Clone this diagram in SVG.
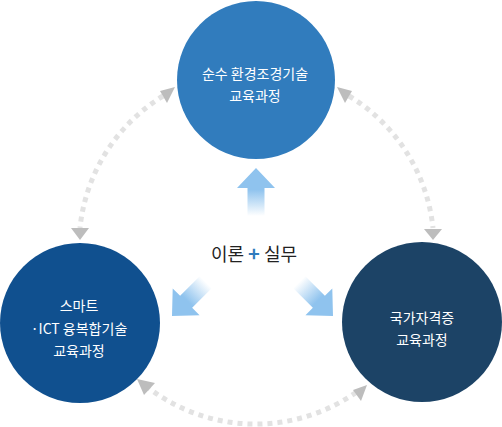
<svg xmlns="http://www.w3.org/2000/svg" width="502" height="427" viewBox="0 0 502 427">
  <defs>
    <linearGradient id="fade" x1="0" y1="0" x2="0" y2="1">
      <stop offset="0" stop-color="#8fc3ee"/>
      <stop offset="0.45" stop-color="#8fc3ee"/>
      <stop offset="1" stop-color="#8fc3ee" stop-opacity="0"/>
    </linearGradient>
    <path id="bigArrow" d="M0 0 L19 20 L8.5 20 L8.5 48 L-8.5 48 L-8.5 20 L-19 20 Z"/>
  </defs>
  <style>
    .dash { fill: none; stroke: #e2e2e2; stroke-width: 5; stroke-dasharray: 5 5; }
    .head { fill: #bdbdbd; }
    .lbl { font-family: "Noto Sans CJK KR", "Noto Sans", sans-serif; font-size: 14px; fill: #ffffff; text-anchor: middle; }
    .mid { font-family: "Noto Sans CJK KR", "Noto Sans", sans-serif; font-size: 18px; fill: #222222; text-anchor: middle; }
  </style>
  <rect width="502" height="427" fill="#ffffff"/>

  <g id="connectors">
    <path class="dash" d="M163 96 A176 176 0 0 0 80 228"/>
    <polygon class="head" points="175,87 160,91 167,103"/>
    <polygon class="head" points="80,240 71,228 89,228"/>

    <path class="dash" d="M349 96 A176 176 0 0 1 433 228"/>
    <polygon class="head" points="337,87 352,91 345,103"/>
    <polygon class="head" points="433,240 424,229 442,229"/>

    <path class="dash" d="M146 386 A176 176 0 0 0 358 391"/>
    <polygon class="head" points="137,379 155,383 144,395"/>
    <polygon class="head" points="367,385 353,390 361,401"/>

    <use href="#bigArrow" transform="translate(256,168)" fill="url(#fade)"/>
    <use href="#bigArrow" transform="translate(172,316) rotate(-135)" fill="url(#fade)"/>
    <use href="#bigArrow" transform="translate(333,316) rotate(135)" fill="url(#fade)"/>
  </g>

  <g id="node-top">
    <circle cx="256" cy="80" r="79" fill="#317cbd"/>
    <text class="lbl" x="255" y="79">순수 환경조경기술</text>
    <text class="lbl" x="255" y="101">교육과정</text>
  </g>

  <g id="node-left">
    <circle cx="80" cy="323" r="80" fill="#10508f"/>
    <text class="lbl" x="79" y="311">스마트</text>
    <text class="lbl" x="79" y="334">·ICT 융복합기술</text>
    <text class="lbl" x="79" y="356">교육과정</text>
  </g>

  <g id="node-right">
    <circle cx="422" cy="322" r="80" fill="#1c4366"/>
    <text class="lbl" x="422" y="323">국가자격증</text>
    <text class="lbl" x="422" y="345">교육과정</text>
  </g>

  <g id="center-label">
    <text class="mid" x="254" y="261">이론 <tspan fill="#2f7bbd" font-weight="bold" font-size="20">+</tspan> 실무</text>
  </g>
</svg>
